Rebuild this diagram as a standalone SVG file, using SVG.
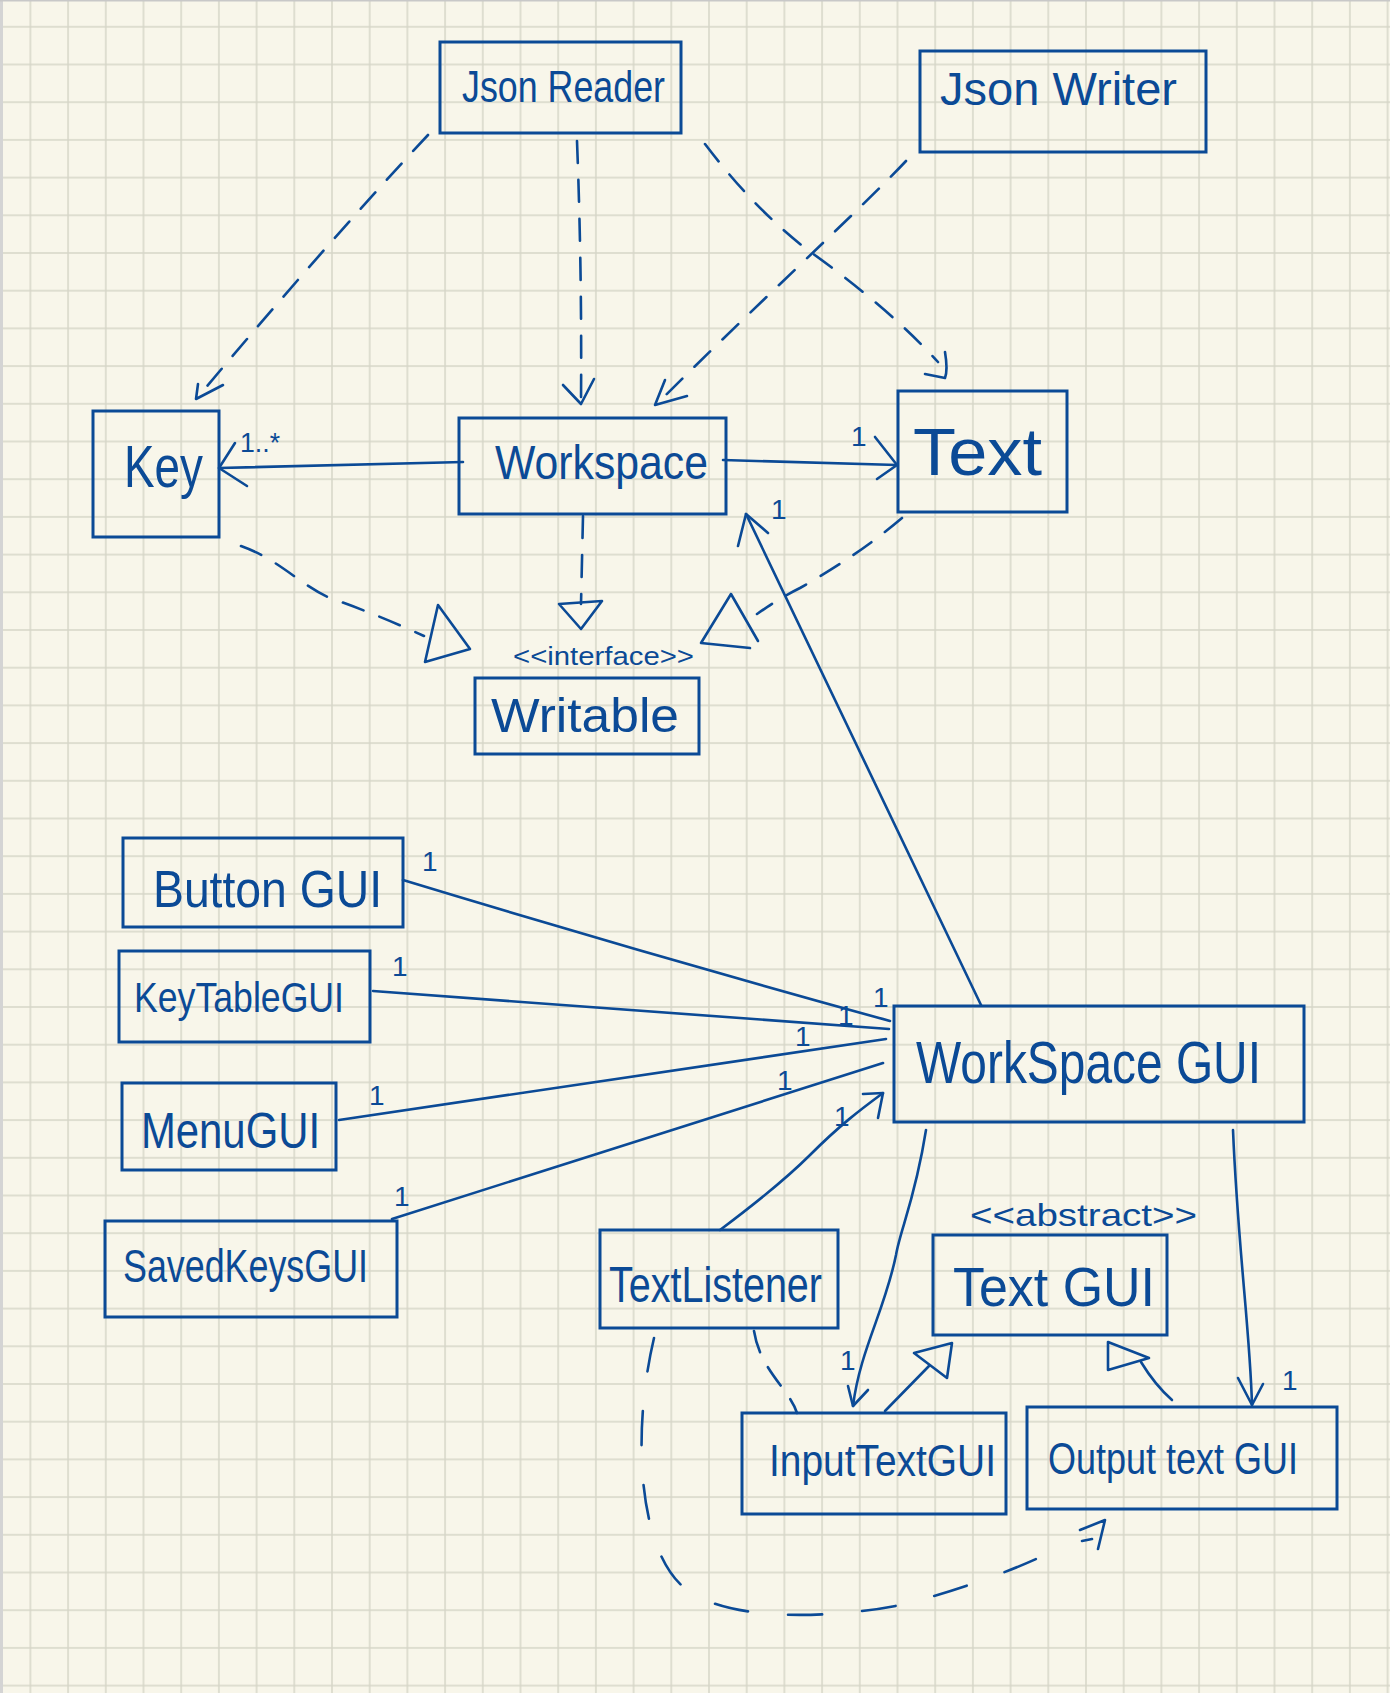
<svg xmlns="http://www.w3.org/2000/svg" width="1390" height="1693" viewBox="0 0 1390 1693">
<style>
.box{fill:none;stroke:#0b4a96;stroke-width:3}
.ln{fill:none;stroke:#0b4a96;stroke-width:2.6;stroke-linecap:round;stroke-linejoin:round}
.dash{stroke-dasharray:22 17}
.lbl{font-family:"Liberation Sans",Arial,sans-serif;fill:#0b4a96}
.m{font-family:"Liberation Sans",Arial,sans-serif;fill:#0b4a96;font-size:28px}
</style>
<defs>
<pattern id="grid" x="29.4" y="25.8" width="37.7" height="37.7" patternUnits="userSpaceOnUse">
<path d="M1 0V37.7M0 1H37.7" stroke="#d6d6c8" stroke-width="1.5" fill="none"/>
</pattern>
</defs>
<rect x="0" y="0" width="1390" height="1693" fill="#f8f6ea"/>
<rect x="0" y="0" width="1390" height="1693" fill="url(#grid)"/>
<rect x="0" y="0" width="3" height="1693" fill="#d4d4d4"/>
<rect x="0" y="0" width="1390" height="1.5" fill="#c8c8c8"/>

<g id="connectors">
<path class="ln dash" d="M428,135 Q330,240 197,398"/>
<path class="ln" d="M198,384 L196,399 L223,385"/>
<path class="ln dash" d="M577,141 Q582,270 581,403"/>
<path class="ln" d="M563,385 L581,404 L594,379"/>
<path class="ln dash" d="M705,144 C740,190 770,220 805,248 C850,280 900,320 938,362"/>
<path class="ln" d="M945,352 Q948,370 945,378 L925,374"/>
<path class="ln dash" d="M906,161 C860,210 740,320 657,404"/>
<path class="ln" d="M687,396 L655,405 L665,380"/>
<path class="ln" d="M463,462 L219,468"/>
<path class="ln" d="M235,443 L219,468 L247,486"/>
<text class="m" x="240" y="452" font-size="26" textLength="40" lengthAdjust="spacingAndGlyphs">1..*</text>
<path class="ln" d="M723,460 L897,465"/>
<path class="ln" d="M875,437 L897,465 L877,479"/>
<text class="m" x="851" y="446">1</text>
<path class="ln dash" d="M583,516 L581,604"/>
<path class="ln" d="M559,604 L602,601 L581,629 Z"/>
<path class="ln dash" d="M241,546 C280,560 300,585 330,598 C370,612 400,625 424,636"/>
<path class="ln" d="M438,605 L470,649 L425,662 Z"/>
<path class="ln dash" d="M902,518 C870,545 840,565 800,588 C780,598 770,605 757,614"/>
<path class="ln" d="M758,641 L731,594 L701,643 L750,648"/>
<path class="ln" d="M981,1005 L746,514"/>
<path class="ln" d="M738,546 L746,514 L768,533"/>
<text class="m" x="771" y="519">1</text>
<path class="ln" d="M403,880 Q650,955 890,1021"/>
<text class="m" x="422" y="871" font-size="24">1</text>
<text class="m" x="873" y="1007" font-size="24">1</text>
<path class="ln" d="M373,991 L889,1029"/>
<text class="m" x="392" y="976">1</text>
<text class="m" x="838" y="1025">1</text>
<path class="ln" d="M339,1120 L886,1039"/>
<text class="m" x="369" y="1105">1</text>
<text class="m" x="795" y="1046" font-size="22">1</text>
<path class="ln" d="M392,1219 L883,1063"/>
<text class="m" x="394" y="1206" font-size="38">1</text>
<text class="m" x="777" y="1090" font-size="26">1</text>
<path class="ln" d="M720,1230 C760,1200 790,1175 810,1155 C840,1125 860,1110 883,1093"/>
<path class="ln" d="M863,1094 L883,1093 L878,1118"/>
<text class="m" x="834" y="1126">1</text>
<path class="ln" d="M926,1130 C915,1200 900,1230 896,1255 C885,1310 860,1350 853,1406"/>
<path class="ln" d="M848,1386 L853,1406 L868,1390"/>
<text class="m" x="840" y="1370">1</text>
<path class="ln" d="M1233,1130 C1238,1250 1250,1330 1252,1405"/>
<path class="ln" d="M1238,1378 L1252,1405 L1263,1384"/>
<text class="m" x="1282" y="1390" font-size="34">1</text>
<path class="ln" d="M885,1411 L929,1366"/>
<path class="ln" d="M914,1353 L952,1343 L947,1378 Z"/>
<path class="ln" d="M1172,1400 Q1155,1385 1141,1362"/>
<path class="ln" d="M1108,1342 L1108,1370 L1149,1358 Z"/>
<path class="ln dash" d="M754,1331 C760,1370 790,1390 797,1413"/>
<path class="ln" style="stroke-dasharray:34 40" d="M654,1338 C630,1440 640,1560 690,1592 C740,1625 850,1616 905,1604 C960,1590 1030,1565 1068,1543"/>
<path class="ln" d="M1080,1530 L1105,1520 L1098,1549 M1082,1541 L1092,1539"/>
</g>

<g id="json-reader"><rect class="box" x="440" y="42" width="241" height="91"/><text class="lbl" x="462" y="102" font-size="44" textLength="203" lengthAdjust="spacingAndGlyphs">Json Reader</text></g>
<g id="json-writer"><rect class="box" x="920" y="51" width="286" height="101"/><text class="lbl" x="940" y="105" font-size="46" textLength="237" lengthAdjust="spacingAndGlyphs">Json Writer</text></g>
<g id="key"><rect class="box" x="93" y="411" width="126" height="126"/><text class="lbl" x="124" y="487" font-size="60" textLength="79" lengthAdjust="spacingAndGlyphs">Key</text></g>
<g id="workspace"><rect class="box" x="459" y="418" width="267" height="96"/><text class="lbl" x="495" y="479" font-size="48" textLength="213" lengthAdjust="spacingAndGlyphs">Workspace</text></g>
<g id="text"><rect class="box" x="898" y="391" width="169" height="121"/><text class="lbl" x="913" y="475" font-size="66" textLength="129" lengthAdjust="spacingAndGlyphs">Text</text></g>
<g id="writable"><text class="lbl" x="513" y="665" font-size="26" textLength="181" lengthAdjust="spacingAndGlyphs">&lt;&lt;interface&gt;&gt;</text><rect class="box" x="475" y="678" width="224" height="76"/><text class="lbl" x="491" y="732" font-size="48" textLength="188" lengthAdjust="spacingAndGlyphs">Writable</text></g>
<g id="button-gui"><rect class="box" x="123" y="838" width="280" height="89"/><text class="lbl" x="153" y="907" font-size="52" textLength="229" lengthAdjust="spacingAndGlyphs">Button GUI</text></g>
<g id="keytable-gui"><rect class="box" x="119" y="951" width="251" height="91"/><text class="lbl" x="134" y="1012" font-size="42" textLength="210" lengthAdjust="spacingAndGlyphs">KeyTableGUI</text></g>
<g id="menu-gui"><rect class="box" x="122" y="1083" width="214" height="87"/><text class="lbl" x="141" y="1148" font-size="50" textLength="179" lengthAdjust="spacingAndGlyphs">MenuGUI</text></g>
<g id="savedkeys-gui"><rect class="box" x="105" y="1221" width="292" height="96"/><text class="lbl" x="123" y="1282" font-size="46" textLength="245" lengthAdjust="spacingAndGlyphs">SavedKeysGUI</text></g>
<g id="workspace-gui"><rect class="box" x="894" y="1006" width="410" height="116"/><text class="lbl" x="916" y="1083" font-size="60" textLength="345" lengthAdjust="spacingAndGlyphs">WorkSpace GUI</text></g>
<g id="text-listener"><rect class="box" x="600" y="1230" width="238" height="98"/><text class="lbl" x="609" y="1302" font-size="50" textLength="213" lengthAdjust="spacingAndGlyphs">TextListener</text></g>
<g id="text-gui"><text class="lbl" x="970" y="1226" font-size="32" textLength="227" lengthAdjust="spacingAndGlyphs">&lt;&lt;abstract&gt;&gt;</text><rect class="box" x="933" y="1235" width="234" height="100"/><text class="lbl" x="953" y="1306" font-size="56" textLength="202" lengthAdjust="spacingAndGlyphs">Text GUI</text></g>
<g id="input-text-gui"><rect class="box" x="742" y="1413" width="264" height="101"/><text class="lbl" x="769" y="1476" font-size="45" textLength="227" lengthAdjust="spacingAndGlyphs">InputTextGUI</text></g>
<g id="output-text-gui"><rect class="box" x="1027" y="1407" width="310" height="102"/><text class="lbl" x="1048" y="1474" font-size="44" textLength="250" lengthAdjust="spacingAndGlyphs">Output text GUI</text></g>
</svg>
